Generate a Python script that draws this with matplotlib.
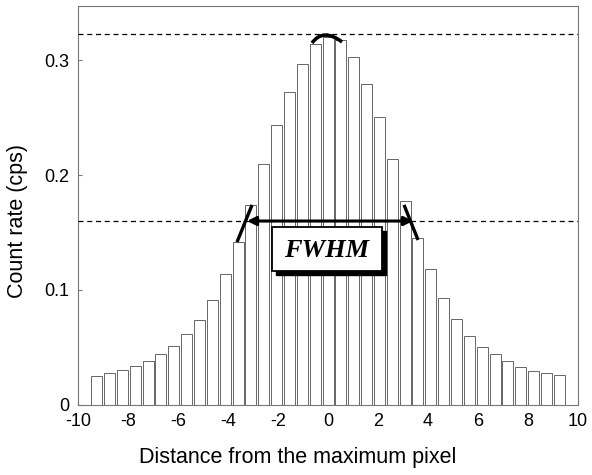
import numpy as np
import matplotlib
matplotlib.use("Agg")
import matplotlib.pyplot as plt
from matplotlib.patches import Rectangle, PathPatch
from matplotlib.path import Path

plt.rcParams['font.family'] = ['Liberation Sans', 'DejaVu Sans']
plt.rcParams['axes.unicode_minus'] = False

# bar positions (spacing) and count rates
paso = 0.514
indices = np.arange(-18, 19)
tasas = [0.0252, 0.0278, 0.0307, 0.0336, 0.038, 0.044, 0.051, 0.0615, 0.0736,
         0.0913, 0.1136, 0.1415, 0.174, 0.210, 0.2435, 0.272, 0.2965, 0.3137,
         0.3196,
         0.317, 0.3026, 0.279, 0.2504, 0.214, 0.1774, 0.145, 0.118, 0.093,
         0.0748, 0.060, 0.0504, 0.0443, 0.038, 0.033, 0.0296, 0.0278, 0.026]
maximo = 0.3226
media_altura = 0.160
fwhm_izq, fwhm_der = -3.24, 3.40

x_ticks = [-10, -8, -6, -4, -2, 0, 2, 4, 6, 8, 10]
y_ticks = [0, 0.1, 0.2, 0.3]
y_labels = ['0', '0.1', '0.2', '0.3']

fig = plt.figure(figsize=(5.92, 4.75), dpi=100)
ax = fig.add_axes([0.1318, 0.1474, 0.8446, 0.84])

posiciones = indices * paso
ax.bar(posiciones, tasas, width=0.44, color='white', edgecolor='#666666',
       linewidth=0.7, zorder=2)

# dashed reference lines (max and half max)
ax.axhline(maximo, color='black', linestyle=(0, (4, 3)), linewidth=0.9, zorder=3)
ax.axhline(media_altura, color='black', linestyle=(0, (4, 3)), linewidth=0.9, zorder=3)

# FWHM arrow
ax.annotate('', xy=(fwhm_izq, media_altura), xytext=(fwhm_der, media_altura),
            arrowprops=dict(arrowstyle='<|-|>', color='black', lw=2.2,
                            mutation_scale=13, shrinkA=0, shrinkB=0), zorder=5)
# slashes at the edges
ax.plot([-3.04, -3.64], [0.174, 0.1417], color='black', lw=2.4, zorder=5,
        solid_capstyle='butt')
ax.plot([3.04, 3.60], [0.174, 0.1435], color='black', lw=2.4, zorder=5,
        solid_capstyle='butt')

# arc over the peak
arco = Path([(-0.64, 0.3148), (-0.20, 0.3282), (0.56, 0.3157)],
            [Path.MOVETO, Path.CURVE3, Path.CURVE3])
ax.add_patch(PathPatch(arco, facecolor='none', edgecolor='black', lw=2.6, zorder=5))

# FWHM label box with shadow
bx0, bx1, by0, by1 = -2.24, 2.16, 0.1165, 0.1548
ax.add_patch(Rectangle((bx0 + 0.16, by0 - 0.0038), bx1 - bx0, by1 - by0,
                       facecolor='black', edgecolor='black', zorder=6))
ax.add_patch(Rectangle((bx0, by0), bx1 - bx0, by1 - by0,
                       facecolor='white', edgecolor='black', lw=1.3, zorder=7))
ax.text((bx0 + bx1) / 2, (by0 + by1) / 2 - 0.001, 'FWHM', ha='center', va='center',
        family=['Liberation Serif', 'DejaVu Serif'], fontweight='bold',
        fontstyle='italic', fontsize=19, zorder=8)

ax.set_xlim(-10, 10)
ax.set_ylim(0, 0.347)
ax.set_xticks(x_ticks)
ax.set_xticklabels([str(t) for t in x_ticks])
ax.set_yticks(y_ticks)
ax.set_yticklabels(y_labels)
ax.tick_params(direction='in', length=3, labelsize=13, color='#777777', pad=6)
for lado in ax.spines.values():
    lado.set_color('#777777')
    lado.set_linewidth(0.8)

ax.set_xlabel('Distance from the maximum pixel', fontsize=15.5, labelpad=14)
ax.set_ylabel('Count rate (cps)', fontsize=15.5, labelpad=14)
ax.xaxis.set_label_coords(0.44, -0.105)
ax.yaxis.set_label_coords(-0.10, 0.46)

fig.savefig('out.png', dpi=100)
